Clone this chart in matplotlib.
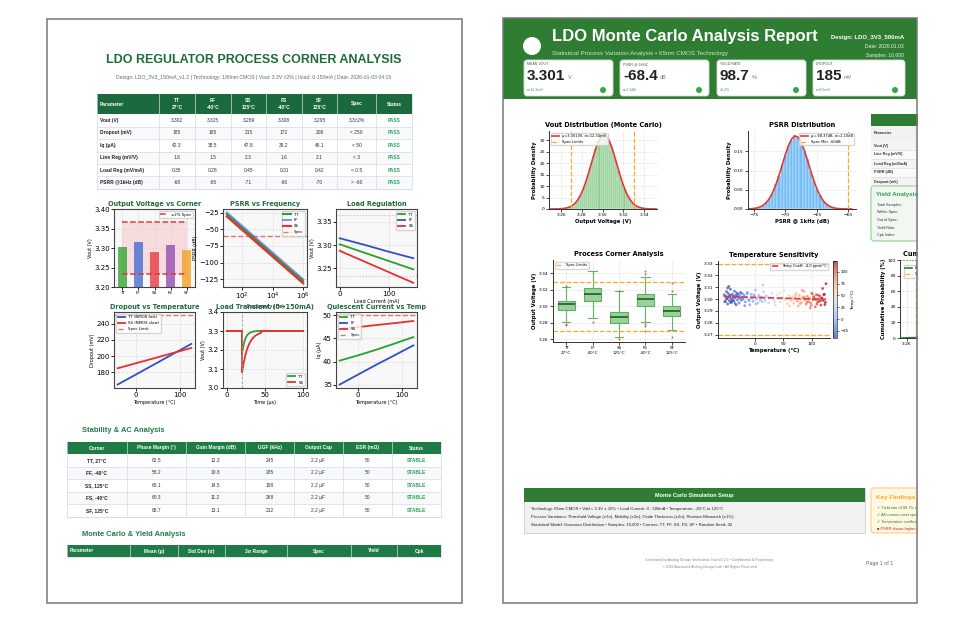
import numpy as np
import matplotlib
matplotlib.use("Agg")
import matplotlib.pyplot as plt
from matplotlib.patches import Rectangle, FancyBboxPatch, Circle
from matplotlib.lines import Line2D
from matplotlib.colors import Normalize

# ---------------- data: left page ----------------
corners = ["TT", "FF", "SS", "FS", "SF"]
vout_corner = [3.302, 3.315, 3.289, 3.308, 3.295]
spec_hi, spec_lo = 3.366, 3.234

psrr_freq = [10, 100, 1e3, 1e4, 1e5, 1e6]
psrr_tt = [-28, -48, -68, -88, -108, -128]
psrr_ff = [-25, -45, -65, -85, -105, -125]
psrr_ss = [-31, -51, -71, -91, -111, -131]

iload = [0, 50, 100, 150]
loadreg_tt = [3.302, 3.284, 3.266, 3.248]
loadreg_ff = [3.315, 3.301, 3.286, 3.272]
loadreg_ss = [3.288, 3.265, 3.242, 3.219]

temp_sweep = [-40, 0, 40, 80, 125]
dropout_tt = [165, 177.1, 189.2, 201.4, 215]
dropout_ss = [185, 191.1, 197.1, 203.2, 210]
iq_tt = [40.2, 41.3, 42.5, 43.8, 45.3]
iq_ff = [35.0, 37.1, 39.2, 41.2, 43.5]
iq_ss = [47.0, 47.45, 47.9, 48.3, 48.8]

tr_t_tt = [0, 20, 20, 22, 24, 26, 28, 30, 33, 36, 40, 100]
tr_v_tt = [3.3, 3.3, 3.182, 3.228, 3.257, 3.274, 3.284, 3.290, 3.295, 3.298, 3.3, 3.3]
tr_t_ss = [0, 20, 20, 22, 24, 26, 28, 30, 33, 36, 40, 44, 45, 45, 100]
tr_v_ss = [3.3, 3.3, 3.083, 3.131, 3.168, 3.198, 3.220, 3.238, 3.257, 3.271, 3.282, 3.289, 3.291, 3.3, 3.3]

t1_header = ["Parameter", "TT\n27°C", "FF\n-40°C", "SS\n125°C", "FS\n-40°C", "SF\n125°C", "Spec", "Status"]
t1_rows = [
    ["Vout (V)", "3.302", "3.315", "3.289", "3.308", "3.295", "3.3±2%", "PASS"],
    ["Dropout (mV)", "185", "165", "215", "172", "208", "< 250", "PASS"],
    ["Iq (μA)", "42.3", "38.5", "47.8", "39.2", "46.1", "< 50", "PASS"],
    ["Line Reg (mV/V)", "1.8", "1.5", "2.3", "1.6", "2.1", "< 3", "PASS"],
    ["Load Reg (mV/mA)", "0.35", "0.28", "0.45", "0.31", "0.42", "< 0.5", "PASS"],
    ["PSRR @1kHz (dB)", "-68", "-65", "-71", "-66", "-70", "> -60", "PASS"],
]
t2_header = ["Corner", "Phase Margin (°)", "Gain Margin (dB)", "UGF (kHz)", "Output Cap", "ESR (mΩ)", "Status"]
t2_rows = [
    ["TT, 27°C", "62.5", "12.3", "245", "2.2 μF", "50", "STABLE"],
    ["FF, -40°C", "58.2", "10.8", "285", "2.2 μF", "50", "STABLE"],
    ["SS, 125°C", "68.1", "14.5", "198", "2.2 μF", "50", "STABLE"],
    ["FS, -40°C", "60.3", "11.2", "268", "2.2 μF", "50", "STABLE"],
    ["SF, 125°C", "65.7", "13.1", "212", "2.2 μF", "50", "STABLE"],
]
t3_header = ["Parameter", "Mean (μ)", "Std Dev (σ)", "3σ Range", "Spec", "Yield", "Cpk"]

# ---------------- data: right page ----------------
cards = [("MEAN VOUT", "3.301", "V", "σ=12.3mV"),
         ("PSRR @ 1KHZ", "-68.4", "dB", "σ=2.1dB"),
         ("YIELD RATE", "98.7", "%", "±1.2%"),
         ("DROPOUT", "185", "mV", "σ=8.5mV")]

vout_bin_lo, vout_bin_w = 3.260, 0.002
vout_hist = [0.2, 0.3, 0.4, 0.7, 1.1, 1.5, 2.4, 3.3, 4.8, 6.2, 8.5, 10.6, 13.7, 16.3,
             19.9, 22.6, 26.0, 28.1, 30.6, 31.5, 32.6, 31.8, 31.2, 28.8, 26.9, 23.5,
             20.9, 17.2, 14.6, 11.3, 9.2, 6.7, 5.2, 3.6, 2.7, 1.7, 1.2, 0.8, 0.5, 0.3, 0.2]
vout_fit_x = [3.249, 3.253, 3.257, 3.261, 3.263, 3.265, 3.267, 3.269, 3.271, 3.273, 3.275,
              3.277, 3.279, 3.281, 3.283, 3.285, 3.287, 3.289, 3.291, 3.293, 3.295, 3.297,
              3.299, 3.301, 3.303, 3.305, 3.307, 3.309, 3.311, 3.313, 3.315, 3.317, 3.319,
              3.321, 3.323, 3.325, 3.327, 3.329, 3.331, 3.333, 3.335, 3.337, 3.339, 3.341,
              3.345, 3.349, 3.352]
vout_fit_y = [0.0, 0.015, 0.05, 0.16, 0.26, 0.43, 0.68, 1.05, 1.59, 2.33, 3.34, 4.65, 6.31,
              8.36, 10.77, 13.51, 16.52, 19.67, 22.82, 25.78, 28.38, 30.43, 31.77, 32.32,
              32.02, 30.91, 29.06, 26.61, 23.74, 20.63, 17.46, 14.40, 11.57, 9.05, 6.88,
              5.11, 3.69, 2.60, 1.78, 1.19, 0.78, 0.49, 0.30, 0.18, 0.06, 0.018, 0.0]

psrr_bin_lo, psrr_bin_w = -75.25, 0.5
psrr_hist = [0.002, 0.003, 0.006, 0.010, 0.017, 0.029, 0.041, 0.064, 0.085, 0.116,
             0.139, 0.167, 0.179, 0.192, 0.185, 0.176, 0.151, 0.130, 0.098, 0.076,
             0.051, 0.036, 0.021, 0.013, 0.007, 0.004, 0.002, 0.001]
psrr_fit_x = [-76.0, -75.5, -75.0, -74.5, -74.0, -73.5, -73.0, -72.5, -72.0, -71.5, -71.0,
              -70.5, -70.0, -69.5, -69.0, -68.5, -68.0, -67.5, -67.0, -66.5, -66.0, -65.5,
              -65.0, -64.5, -64.0, -63.5, -63.0, -62.5, -62.0, -61.5, -61.0, -60.5, -59.5]
psrr_fit_y = [0.0003, 0.0006, 0.0013, 0.0027, 0.0052, 0.0096, 0.0167, 0.0275, 0.0426,
              0.0626, 0.0867, 0.1136, 0.1406, 0.1644, 0.1816, 0.1896, 0.1870, 0.1744,
              0.1536, 0.1278, 0.1005, 0.0747, 0.0524, 0.0348, 0.0218, 0.0129, 0.0072,
              0.0038, 0.0019, 0.0009, 0.0004, 0.0002, 0.0]

box_labels = ["TT\n27°C", "FF\n-40°C", "SS\n125°C", "FS\n-40°C", "SF\n125°C"]
box_med = [3.3028, 3.3153, 3.2871, 3.3090, 3.2939]
box_q1 = [3.2955, 3.3062, 3.2802, 3.3000, 3.2878]
box_q3 = [3.3069, 3.3222, 3.2936, 3.3152, 3.3000]
box_lo = [3.2808, 3.2861, 3.2628, 3.2808, 3.2719]
box_hi = [3.3240, 3.3430, 3.3188, 3.3352, 3.3152]
box_fliers = [[3.3243, 3.2790, 3.2772], [3.2808], [3.3190, 3.2608],
              [3.3430, 3.3397, 3.2788, 3.2768, 3.2700], [3.3283, 3.3185, 3.2628]]

scat_temp = [-54, -52, -51, -50, -49, -48, -47, -46, -45, -44, -43, -42, -41, -40, -39,
             -38, -37, -36, -35, -34, -33, -32, -31, -30, -29, -28, -27, -26, -25, -24,
             -23, -22, -21, -53, -48, -44, -41, -38, -35, -31, -28, -25, -50, -46, -43,
             -19, -17, -15, -13, -11, -9, -7, -5, -3, -1, 1, 3, 5, 7, 9, 11, 13, 15, 17,
             19, -18, -14, -10, -6, -2, 2, 6, 10, 14, 18,
             21, 24, 27, 30, 33, 36, 39, 42, 45, 48, 51, 54, 57, 60, 63, 25, 35, 44, 52, 61,
             66, 68, 70, 72, 74, 76, 78, 80, 82, 84, 86, 88, 90, 92, 94, 96, 98, 100, 102,
             104, 106, 108, 110, 112, 114, 116, 118, 120, 122, 124, 67, 71, 75, 79, 83, 87,
             91, 95, 99, 103, 107, 111, 115, 119, 123, 85, 93, 101, 109, 117, 125, 97, 105,
             113, 121]
scat_vout = [3.3036, 3.2981, 3.3023, 3.3064, 3.3003, 3.2959, 3.3048, 3.3017, 3.2988, 3.3030,
             3.3083, 3.3009, 3.2974, 3.3041, 3.2996, 3.3024, 3.2985, 3.3067, 3.3012, 3.3033,
             3.2952, 3.3054, 3.2993, 3.3020, 3.3044, 3.2967, 3.3026, 3.3006, 3.3058, 3.2990,
             3.3015, 3.3046, 3.3000, 3.2978, 3.3094, 3.3029, 3.2986, 3.3021, 3.2964, 3.3039,
             3.3013, 3.3051, 3.3004, 3.3107, 3.2971,
             3.3031, 3.2977, 3.3016, 3.3057, 3.2996, 3.2952, 3.3041, 3.3010, 3.2981, 3.3023,
             3.3076, 3.3002, 3.2967, 3.3034, 3.2989, 3.3017, 3.2978, 3.3060, 3.3005, 3.3026,
             3.2945, 3.3047, 3.2986, 3.3013, 3.3037, 3.2960, 3.3019, 3.2999, 3.3121, 3.2983,
             3.3024, 3.2969, 3.3011, 3.3052, 3.2991, 3.2947, 3.3036, 3.3005, 3.2976, 3.3018,
             3.3071, 3.2997, 3.2962, 3.3029, 3.2984, 3.3012, 3.2973, 3.3055, 3.3000, 3.2941,
             3.3019, 3.2964, 3.3006, 3.3047, 3.2986, 3.2942, 3.3031, 3.3000, 3.2971, 3.3013,
             3.3066, 3.2992, 3.2957, 3.3024, 3.2979, 3.3007, 3.2968, 3.3050, 3.2995, 3.3016,
             3.2935, 3.3037, 3.2976, 3.3003, 3.3027, 3.2950, 3.3009, 3.2989, 3.3041, 3.2973,
             3.2998, 3.3029, 3.2983, 3.2961, 3.3077, 3.3012, 3.2969, 3.3004, 3.2947, 3.3022,
             3.2996, 3.3034, 3.2987, 3.3090, 3.2954, 3.3018, 3.2979, 3.3045, 3.2958, 3.3010,
             3.3130, 3.2926, 3.3001, 3.2982, 3.3038]
fit_temp = [-55, 125]
fit_vout = [3.3022, 3.2998]

cdf_x = [3.255, 3.27, 3.28, 3.29, 3.30, 3.31, 3.32, 3.33, 3.345]
cdf_y = [0, 0.6, 4.2, 17.8, 45.6, 76.0, 93.5, 99.1, 100]

setup_lines = [
    "Technology: 65nm CMOS • Vdd = 3.3V ± 10% • Load Current: 0 - 500mA • Temperature: -40°C to 125°C",
    "Process Variations: Threshold Voltage (±3σ), Mobility (±2σ), Oxide Thickness (±2σ), Resistor Mismatch (±1%)",
    "Statistical Model: Gaussian Distribution • Samples: 10,000 • Corners: TT, FF, SS, FS, SF • Random Seed: 42",
]
findings = [("✓ Yield rate of 98.7% exceeds target", "#2e7d32"),
            ("✓ All corners meet specification", "#2e7d32"),
            ("✓ Temperature coefficient within limits", "#2e7d32"),
            ("■ PSRR shows higher variation", "#c62828")]
side_params = ["Vout (V)", "Line Reg (mV/V)", "Load Reg (mV/mA)", "PSRR (dB)", "Dropout (mV)"]
yield_items = ["Total Samples:", "Within Spec:", "Out of Spec:", "Yield Rate:", "Cpk Index:"]

# ---------------- helpers (pixel coordinates, y from top) ----------------
W, H = 960, 621
fig = plt.figure(figsize=(W / 100, H / 100), dpi=100)
HTML = ["Liberation Sans", "DejaVu Sans"]
GREEN_L = "#1e6b3c"
GREEN_R = "#2e7d32"
C_TT, C_FF, C_SS = "#2ca02c", "#3050c8", "#e8302e"


def T(x, y, s, size, color="#222222", weight="normal", ha="left", va="center", z=3, **kw):
    return fig.text(x / W, 1 - y / H, s, fontsize=size, color=color, fontweight=weight,
                    ha=ha, va=va, family=HTML, zorder=z, **kw)


def box(x0, y0, x1, y1, fc, ec="none", lw=0, z=-1, r=0):
    xy, w, h = (x0 / 100, (H - y1) / 100), (x1 - x0) / 100, (y1 - y0) / 100
    if r:
        p = FancyBboxPatch(xy, w, h, boxstyle=f"round,pad=0,rounding_size={r / 100}",
                           transform=fig.dpi_scale_trans, fc=fc, ec=ec, lw=lw, zorder=z)
    else:
        p = Rectangle(xy, w, h, transform=fig.dpi_scale_trans, fc=fc, ec=ec, lw=lw, zorder=z)
    fig.add_artist(p)


def line(x0, y0, x1, y1, color, lw=0.5, z=-0.5):
    fig.add_artist(Line2D([x0 / W, x1 / W], [1 - y0 / H, 1 - y1 / H],
                          transform=fig.transFigure, color=color, lw=lw, zorder=z))


def dot(x, y, r, color, z=2):
    fig.add_artist(Circle((x / 100, (H - y) / 100), r / 100, transform=fig.dpi_scale_trans,
                          fc=color, ec="none", zorder=z))


def axes(x0, y0, x1, y1):
    return fig.add_axes([x0 / W, 1 - y1 / H, (x1 - x0) / W, (y1 - y0) / H])


def table(xe, y0, hh, rh, header, rows, hdr_fc, left_first, size=3.5):
    y1 = y0 + hh
    box(xe[0], y0, xe[-1], y1, hdr_fc)
    for i, h in enumerate(header):
        if i == 0 and left_first:
            T(xe[0] + 3, (y0 + y1) / 2, h, size, "white", "bold")
        else:
            T((xe[i] + xe[i + 1]) / 2, (y0 + y1) / 2, h, size, "white", "bold",
              ha="center", linespacing=1.6)
    for r, row in enumerate(rows):
        ya, yb = y1 + r * rh, y1 + (r + 1) * rh
        box(xe[0], ya, xe[-1], yb, "#ffffff" if r % 2 == 0 else "#f8f9fa")
        line(xe[0], yb, xe[-1], yb, "#d3dbe3")
        ym = (ya + yb) / 2
        for i, v in enumerate(row):
            xm = (xe[i] + xe[i + 1]) / 2
            if i == 0:
                if left_first:
                    T(xe[0] + 3, ym, v, size, "#222222", "bold")
                else:
                    T(xm, ym, v, size, "#222222", "bold", ha="center")
            elif i == len(row) - 1:
                T(xm, ym, v, size, "#27a35a", "bold", ha="center")
            else:
                T(xm, ym, v, size, "#333333", ha="center")
    yend = y1 + len(rows) * rh
    for x in xe:
        line(x, y0, x, yend, "#d3dbe3")
    line(xe[0], yend, xe[-1], yend, "#d3dbe3")


def style_left(ax, title):
    ax.set_facecolor("#f8f8f8")
    ax.grid(True, ls="--", color="#dcdcdc", lw=0.5)
    ax.set_axisbelow(True)
    for s in ax.spines.values():
        s.set_color("#444444")
        s.set_linewidth(0.8)
    ax.tick_params(labelsize=5, length=2, width=0.6, pad=1)
    ax.set_title(title, fontsize=4.7, fontweight="bold", color=GREEN_L, pad=2)


def style_right(ax, title, xl, yl):
    for s in ("top", "right"):
        ax.spines[s].set_visible(False)
    for s in ("left", "bottom"):
        ax.spines[s].set_color("#333333")
        ax.spines[s].set_linewidth(0.7)
    ax.grid(True, ls=":", color="#cccccc", lw=0.5)
    ax.set_axisbelow(True)
    ax.tick_params(labelsize=3.2, length=2, width=0.5, pad=1)
    ax.set_title(title, fontsize=4.8, fontweight="bold", pad=3)
    ax.set_xlabel(xl, fontsize=3.8, fontweight="bold", labelpad=1.5)
    ax.set_ylabel(yl, fontsize=3.8, fontweight="bold", labelpad=1.5)


# ================= LEFT PAGE =================
box(47, 19, 462, 603, "white", ec="#777777", lw=1.1, z=-2)
T(254, 60, "LDO REGULATOR PROCESS CORNER ANALYSIS", 9, GREEN_L, "bold", ha="center")
T(254, 77, "Design: LDO_3V3_150mA_v1.2 | Technology: 180nm CMOS | Vout: 3.3V ±2% | "
           "Iload: 0-150mA | Date: 2026-01-03 04:15", 3.7, "#5a6b7d", ha="center")
table([97, 159, 195, 231, 266, 302, 337, 376, 412], 94, 20, 12.5, t1_header, t1_rows,
      "#1b6a3d", True)

# -- plot 1: output voltage vs corner
ax = axes(114, 209, 195, 287)
style_left(ax, "Output Voltage vs Corner")
xs = np.arange(len(corners))
ax.fill_between([0, 4], spec_lo, spec_hi, color="#f5c6cb", alpha=0.55, lw=0)
ax.bar(xs, vout_corner, width=0.6,
       color=["#2ca02c", "#3a66d0", "#e8303a", "#8e44ad", "#f39c12"], alpha=0.75)
ax.hlines([spec_hi, spec_lo], 0, 4, colors="#e53935", linestyles="--", lw=1.1,
          label="±2% Spec")
ax.set_ylim(3.20, 3.40)
ax.set_yticks([3.20, 3.25, 3.30, 3.35, 3.40])
ax.set_xticks(xs)
ax.set_xticklabels(corners, fontsize=3)
ax.set_ylabel("Vout (V)", fontsize=3.5, labelpad=1)
ax.legend(fontsize=2.8, loc="upper right", handlelength=2)

# -- plot 2: PSRR vs frequency
ax = axes(223, 209, 307, 287)
style_left(ax, "PSRR vs Frequency")
ax.semilogx(psrr_freq, psrr_tt, color=C_TT, lw=1.5, label="TT")
ax.semilogx(psrr_freq, psrr_ff, color=C_FF, lw=1.5, alpha=0.6, label="FF")
ax.semilogx(psrr_freq, psrr_ss, color=C_SS, lw=1.5, label="SS")
ax.axhline(-60, color="#e53935", ls="--", lw=1, alpha=0.7, label="Spec")
ax.set_xticks([1e2, 1e4, 1e6])
ax.set_yticks([-25, -50, -75, -100, -125])
ax.set_xlabel("Frequency (Hz)", fontsize=3.5, labelpad=1)
ax.set_ylabel("PSRR (dB)", fontsize=3.5, labelpad=1)
ax.legend(fontsize=2.8, loc="upper right")

# -- plot 3: load regulation
ax = axes(336, 209, 417, 287)
style_left(ax, "Load Regulation")
ax.plot(iload, loadreg_tt, color=C_TT, lw=1.3, label="TT")
ax.plot(iload, loadreg_ff, color=C_FF, lw=1.3, label="FF")
ax.plot(iload, loadreg_ss, color=C_SS, lw=1.3, label="SS")
ax.axhline(spec_hi, color="#e53935", ls=":", lw=0.8, alpha=0.4)
ax.axhline(spec_lo, color="#e53935", ls=":", lw=0.8, alpha=0.4)
ax.set_ylim(3.21, 3.378)
ax.set_yticks([3.25, 3.30, 3.35])
ax.set_xticks([0, 100])
ax.set_xlabel("Load Current (mA)", fontsize=3.5, labelpad=1)
ax.set_ylabel("Vout (V)", fontsize=3.5, labelpad=1)
ax.legend(fontsize=2.8, loc="upper right")

# -- plot 4: dropout vs temperature
ax = axes(114, 312, 195, 388)
style_left(ax, "Dropout vs Temperature")
ax.plot(temp_sweep, dropout_tt, color=C_FF, lw=1.3, label="TT (NMOS fast)")
ax.plot(temp_sweep, dropout_ss, color=C_SS, lw=1.3, label="SS (NMOS slow)")
ax.axhline(250, color="#e53935", ls="--", lw=1, alpha=0.7, label="Spec Limit")
ax.set_yticks([180, 200, 220, 240])
ax.set_xticks([0, 100])
ax.set_xlabel("Temperature (°C)", fontsize=3.5, labelpad=1)
ax.set_ylabel("Dropout (mV)", fontsize=3.5, labelpad=1)
ax.legend(fontsize=2.8, loc="upper left")

# -- plot 5: load transient
ax = axes(223, 312, 307, 388)
style_left(ax, "Load Transient (0→150mA)")
ax.plot(tr_t_tt, tr_v_tt, color=C_TT, lw=1.3, label="TT")
ax.plot(tr_t_ss, tr_v_ss, color=C_SS, lw=1.3, label="SS")
ax.axvline(20, color="#999999", ls="--", lw=0.6)
ax.set_ylim(3.0, 3.4)
ax.set_yticks([3.0, 3.1, 3.2, 3.3, 3.4])
ax.set_xticks([0, 50, 100])
ax.set_xlabel("Time (μs)", fontsize=3.5, labelpad=1)
ax.set_ylabel("Vout (V)", fontsize=3.5, labelpad=1)
ax.legend(fontsize=2.8, loc="lower right")

# -- plot 6: quiescent current
ax = axes(336, 312, 417, 388)
style_left(ax, "Quiescent Current vs Temp")
ax.plot(temp_sweep, iq_tt, color=C_TT, lw=1.3, label="TT")
ax.plot(temp_sweep, iq_ff, color=C_FF, lw=1.3, label="FF")
ax.plot(temp_sweep, iq_ss, color=C_SS, lw=1.3, label="SS")
ax.axhline(50, color="#e53935", ls="--", lw=1, alpha=0.7, label="Spec")
ax.set_yticks([35, 40, 45, 50])
ax.set_xticks([0, 100])
ax.set_xlabel("Temperature (°C)", fontsize=3.5, labelpad=1)
ax.set_ylabel("Iq (μA)", fontsize=3.5, labelpad=1)
ax.legend(fontsize=2.8, loc="upper left")

T(82, 431, "Stability & AC Analysis", 5.4, "#1e7b45", "bold")
table([67, 127, 186, 245, 294, 343, 392, 441], 442, 12, 12.5, t2_header, t2_rows,
      "#1e7b45", False)
T(82, 534, "Monte Carlo & Yield Analysis", 5.4, "#1e7b45", "bold")
table([67, 130, 178, 225, 287, 351, 397, 441], 545, 12, 12.5, t3_header, [],
      "#1e7b45", True)

# ================= RIGHT PAGE =================
box(503, 18, 917, 603, "white", z=-2)
box(503, 18, 917, 99, GREEN_R, z=-1.5)
dot(532, 46, 9, "white", z=-1)
T(552, 36, "LDO Monte Carlo Analysis Report", 12, "white", "bold")
T(552, 54, "Statistical Process Variation Analysis • 65nm CMOS Technology", 4.5, "#c8e6c9")
T(904, 37, "Design: LDO_3V3_500mA", 4.3, "white", "bold", ha="right")
T(904, 46, "Date: 2026.01.03", 3.6, "#e8f5e9", ha="right")
T(904, 55, "Samples: 10,000", 3.6, "#e8f5e9", ha="right")

renderer = fig.canvas.get_renderer()
card_x = [(524, 613), (620, 709), (717, 806), (813, 905)]
for (x0, x1), (lab, val, unit, sub) in zip(card_x, cards):
    box(x0, 60, x1, 96, "white", ec="#d7dcd7", lw=0.6, z=-0.8, r=3)
    T(x0 + 3, 64, lab, 2.6, "#555555")
    t = T(x0 + 3, 76, val, 11, "#222222", "bold")
    x_end = t.get_window_extent(renderer=renderer).x1
    T(x_end + 2.5, 77.5, unit, 4, "#777777")
    T(x0 + 3, 90, sub, 2.6, "#2e9e4f")
    dot(x1 - 10, 90, 3, "#2eaa40")

# -- Vout distribution
ax = axes(549, 131, 657, 209)
style_right(ax, "Vout Distribution (Monte Carlo)", "Output Voltage (V)", "Probability Density")
centers = vout_bin_lo + vout_bin_w * (np.arange(len(vout_hist)) + 0.5)
ax.bar(centers, vout_hist, width=vout_bin_w, color="#81c784", edgecolor="white", lw=0.3,
       alpha=0.9)
ax.plot(vout_fit_x, vout_fit_y, color="#e53935", lw=1.2, label="μ=3.3013V, σ=12.34mV")
ax.axvline(3.27, color="#ffa726", ls="--", lw=0.9, label="Spec Limits")
ax.axvline(3.33, color="#ffa726", ls="--", lw=0.9)
ax.set_xlim(3.2484, 3.3523)
ax.set_ylim(0, 34)
ax.set_xticks([3.26, 3.28, 3.30, 3.32, 3.34])
ax.set_yticks([0, 5, 10, 15, 20, 25, 30])
ax.legend(fontsize=2.6, loc="upper left")

# -- PSRR distribution
ax = axes(748, 131, 856, 209)
style_right(ax, "PSRR Distribution", "PSRR @ 1kHz (dB)", "Probability Density")
centers = psrr_bin_lo + psrr_bin_w * (np.arange(len(psrr_hist)) + 0.5)
ax.bar(centers, psrr_hist, width=psrr_bin_w, color="#64b5f6", edgecolor="white", lw=0.3,
       alpha=0.9)
ax.plot(psrr_fit_x, psrr_fit_y, color="#e53935", lw=1.2, label="μ=-68.37dB, σ=2.10dB")
ax.axvline(-60, color="#ffa726", ls="--", lw=0.9, label="Spec Min: -60dB")
ax.set_xlim(-75.9, -58.8)
ax.set_ylim(0, 0.2026)
ax.set_xticks([-75, -70, -65, -60])
ax.set_yticks([0, 0.05, 0.10, 0.15])
ax.set_yticklabels(["0.00", "0.05", "0.10", "0.15"])
ax.legend(fontsize=2.6, loc="upper right")

# -- process corner boxplot
ax = axes(553, 260, 685, 342)
style_right(ax, "Process Corner Analysis", "", "Output Voltage (V)")
stats = [dict(med=m, q1=a, q3=b, whislo=lo, whishi=hi, fliers=f)
         for m, a, b, lo, hi, f in zip(box_med, box_q1, box_q3, box_lo, box_hi, box_fliers)]
ax.bxp(stats, positions=range(1, 6), widths=0.65, patch_artist=True,
       boxprops=dict(facecolor="#81c784", edgecolor="#43a047", alpha=0.8, lw=0.8),
       medianprops=dict(color="#1b5e20", lw=1.2),
       whiskerprops=dict(color="#5cb860", lw=0.8), capprops=dict(color="#5cb860", lw=0.8),
       flierprops=dict(marker="o", markersize=1.6, markerfacecolor="#c0504d",
                       markeredgecolor="none", alpha=0.7))
ax.axhline(3.33, color="#ffa726", ls="--", lw=0.9, label="Spec Limits")
ax.axhline(3.27, color="#ffa726", ls="--", lw=0.9)
ax.set_xlim(0.5, 5.5)
ax.set_ylim(3.2568, 3.3562)
ax.set_yticks([3.26, 3.28, 3.30, 3.32, 3.34])
ax.set_xticks(range(1, 6))
ax.set_xticklabels(box_labels, fontsize=3, linespacing=1.3)
ax.legend(fontsize=2.6, loc="upper left")

# -- temperature sensitivity
ax = axes(718, 261, 830, 338)
style_right(ax, "Temperature Sensitivity", "Temperature (°C)", "Output Voltage (V)")
sc = ax.scatter(scat_temp, scat_vout, c=scat_temp, cmap="coolwarm",
                norm=Normalize(-40, 123), s=4, alpha=0.75, lw=0)
ax.plot(fit_temp, fit_vout, color="#e53935", ls="--", lw=1.2, label="Temp Coeff: -4.0 ppm/°C")
ax.axhline(3.33, color="#ffa726", ls="--", lw=0.9)
ax.axhline(3.27, color="#ffa726", ls="--", lw=0.9)
ax.set_xlim(-65, 132)
ax.set_ylim(3.2672, 3.3322)
ax.set_xticks([0, 50, 100])
ax.set_yticks([3.27, 3.28, 3.29, 3.30, 3.31, 3.32, 3.33])
ax.legend(fontsize=2.6, loc="upper right")
cax = axes(833, 261, 837, 338)
cb = fig.colorbar(sc, cax=cax)
cb.set_ticks([-25, 0, 25, 50, 75, 100])
cb.ax.tick_params(labelsize=2.8, length=1.5, width=0.4, pad=1)
cb.set_label("Temp (°C)", fontsize=3, labelpad=2)
cb.outline.set_linewidth(0.4)

# -- cumulative distribution (cut by page edge)
ax = axes(900, 260, 994, 338)
style_right(ax, "Cumulative Distribution", "Output Voltage (V)", "Cumulative Probability (%)")
ax.plot(cdf_x, cdf_y, color=GREEN_R, lw=1.2, label="Empirical CDF")
ax.axhline(100, color=GREEN_R, ls=":", lw=0.8)
ax.axvline(3.27, color="#ffa726", ls="--", lw=0.9, label="Spec Limits")
ax.axvline(3.33, color="#ffa726", ls="--", lw=0.9)
ax.set_xlim(3.253, 3.35)
ax.set_ylim(0, 100)
ax.set_xticks([3.26, 3.28, 3.30, 3.32, 3.34])
ax.set_yticks([0, 20, 40, 60, 80, 100])
ax.legend(fontsize=2.6, loc="upper left", bbox_to_anchor=(0.02, 0.96))

# -- side table and yield box (cut by page edge)
box(871, 114, 960, 126, GREEN_R)
box(871, 126, 960, 141, "#f1f1f1")
T(874, 133, "Parameter", 2.7, "#333333", "bold")
for i, p in enumerate(side_params):
    ya = 141 + i * 9
    box(871, ya, 960, ya + 9, "#f4f4f4" if i % 2 == 0 else "#fafafa")
    line(871, ya + 9, 960, ya + 9, "#dddddd")
    T(874, ya + 4.5, p, 2.7, "#333333", "bold")
box(871, 186, 990, 241, "#f1f8f1", ec="#81c784", lw=0.7, z=-0.9, r=3)
T(876, 194, "Yield Analysis", 4.5, "#2e9e4f", "bold")
for i, s in enumerate(yield_items):
    T(877, 205 + i * 7.5, s, 2.7, "#333333")

# -- setup box, findings, footer
box(524, 488, 865, 533, "#f1f1f1", ec="#cfcfcf", lw=0.6)
box(524, 488, 865, 502, GREEN_R, z=-0.9)
T(694, 495, "Monte Carlo Simulation Setup", 4, "white", "bold", ha="center")
for i, s in enumerate(setup_lines):
    T(531, 509 + i * 8, s, 3.1, "#222222")
box(871, 488, 1000, 533, "#fff8e1", ec="#ffcc80", lw=0.8, z=-0.9, r=3)
T(876, 497, "Key Findings", 4.5, "#f9a825", "bold")
for i, (s, c) in enumerate(findings):
    T(877, 508 + i * 7, s, 2.8, c)
T(709, 560, "Generated by Analog Design Verification Tool v2.1.5 • Confidential & Proprietary",
  2.6, "#888888", ha="center")
T(709, 567, "© 2026 Advanced Analog Design Lab • All Rights Reserved", 2.6, "#888888",
  ha="center")
T(880, 563, "Page 1 of 1", 3.8, "#666666", ha="center")

# cover everything past the right page edge, then draw the page frame
box(918, 0, 960, 621, "white", z=10)
box(503, 18, 917, 603, "none", ec="#777777", lw=1.1, z=11)

fig.savefig("out.png", dpi=100)
